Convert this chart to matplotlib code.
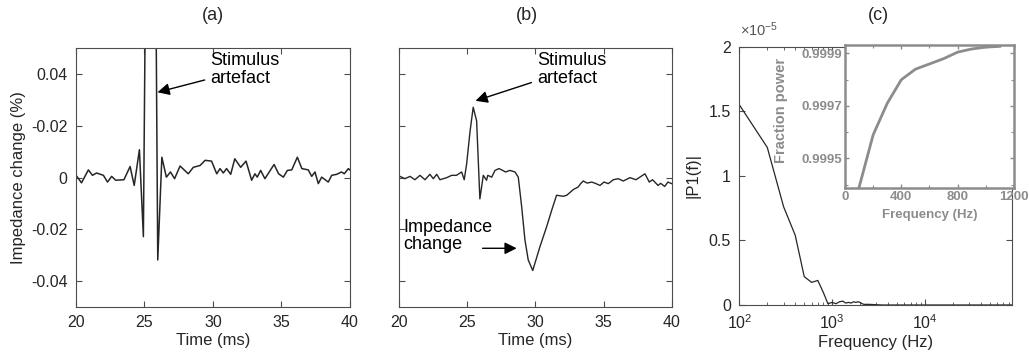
import matplotlib
matplotlib.use('Agg')
import matplotlib.pyplot as plt
from matplotlib.ticker import FixedLocator, NullFormatter, LogLocator

plt.rcParams['font.family'] = ['Liberation Sans', 'DejaVu Sans']
plt.rcParams['mathtext.fontset'] = 'custom'
plt.rcParams['mathtext.rm'] = 'Liberation Sans'
plt.rcParams['mathtext.it'] = 'Liberation Sans:italic'

# (a) raw recording, stimulus artefact dominates
time_a = [20.0, 20.4, 20.9, 21.2, 21.5, 22.0, 22.3, 22.6, 22.9, 23.5, 23.95, 24.25,
          24.63, 24.92, 25.05, 25.45, 25.85, 25.97, 26.27, 26.6, 26.9, 27.2, 27.6,
          28.2, 28.57, 29.06, 29.43, 29.9, 30.28, 30.52, 30.76, 31.0, 31.3, 31.6,
          32.03, 32.42, 32.83, 33.07, 33.24, 33.49, 33.8, 34.47, 34.8, 35.15, 35.44,
          35.76, 36.17, 36.5, 36.97, 37.22, 37.46, 37.7, 37.95, 38.43, 38.68, 39.05,
          39.4, 39.6, 39.9, 40.0]
imp_a = [0.0009, -0.002, 0.003, 0.0009, 0.0018, 0.0009, -0.0017, 0.0005, -0.001,
         -0.0008, 0.0043, -0.003, 0.0108, -0.0228, 0.06, 0.3, 0.06, -0.0318, 0.0079,
         0.0002, 0.0022, -0.0004, 0.0045, 0.0015, 0.004, 0.0047, 0.0067, 0.0064,
         0.0015, 0.0035, 0.0018, 0.0035, 0.0013, 0.0073, 0.004, 0.0064, -0.001,
         0.0015, 0.0002, 0.0028, -0.0004, 0.0051, 0.0015, 0.0002, 0.0028, 0.003,
         0.0079, 0.0035, 0.003, 0.0005, 0.0022, -0.0023, 0.0002, -0.0017, 0.0009,
         0.0013, 0.0022, 0.0015, 0.0035, 0.003]

# (b) after artefact removal, impedance change visible
time_b = [20.05, 20.42, 20.79, 21.15, 21.52, 21.89, 22.25, 22.5, 22.75, 22.99, 23.48,
          23.85, 24.2, 24.58, 24.77, 24.95, 25.2, 25.43, 25.68, 25.92, 26.17, 26.41,
          26.5, 26.79, 27.03, 27.32, 27.6, 27.8, 28.13, 28.5, 28.74, 28.99, 29.23,
          29.47, 29.8, 30.33, 30.82, 31.2, 31.55, 32.04, 32.3, 32.78, 33.14, 33.32,
          33.51, 33.8, 34.13, 34.4, 34.74, 35.03, 35.35, 35.72, 36.08, 36.45, 36.94,
          37.38, 37.67, 38.04, 38.36, 38.6, 39.0, 39.2, 39.49, 39.73, 40.0]
imp_b = [0.0005, -0.0004, 0.0005, -0.0008, 0.0009, -0.0008, 0.0013, -0.0004, 0.0013,
         -0.0008, 0.0, 0.0009, 0.0009, 0.0022, -0.0008, 0.0054, 0.018, 0.0272, 0.022,
         -0.0082, 0.0009, -0.001, 0.0009, 0.0002, 0.0028, 0.0035, 0.0028, 0.0022,
         0.0028, 0.0022, 0.0002, -0.0113, -0.0241, -0.0318, -0.0359, -0.0267,
         -0.019, -0.0125, -0.0068, -0.0072, -0.0068, -0.0046, -0.0036, -0.0023,
         -0.0013, -0.0021, -0.0017, -0.0022, -0.003, -0.0017, -0.0023, -0.0008,
         -0.0004, -0.0013, 0.0, -0.0008, 0.0002, 0.0015, -0.0017, -0.0008, -0.003,
         -0.0022, -0.0034, -0.0017, -0.0023]

# (c) single-sided amplitude spectrum
freq_c = [100, 200, 300, 400, 500, 600, 700, 800, 900, 1000, 1100, 1200, 1300, 1400,
          1500, 1600, 1700, 1800, 1900, 2000, 2100, 2200, 2500, 3000, 3500, 4000,
          4200, 5000, 10000, 20000, 50000, 85900]
p1_c = [1.55e-5, 1.22e-5, 0.76e-5, 0.54e-5, 0.22e-5, 0.175e-5, 0.19e-5, 0.10e-5,
        0.01e-5, 0.02e-5, 0.01e-5, 0.025e-5, 0.03e-5, 0.015e-5, 0.02e-5, 0.015e-5,
        0.025e-5, 0.02e-5, 0.025e-5, 0.02e-5, 0.01e-5, 0.005e-5, 0.005e-5, 0.002e-5,
        0.0, 0.0, 0.0, 0.0, 0.0, 0.0, 0.0, 0.0]

# inset: cumulative fraction of power
freq_in = [100, 200, 300, 400, 500, 600, 700, 800, 900, 1000, 1100]
frac_in = [0.99939, 0.99959, 0.99971, 0.99980, 0.99984, 0.99986, 0.99988,
           0.999905, 0.999917, 0.999924, 0.999927]

axis_col = '#4d4d4d'
text_col = '#262626'
inset_col = '#8c8c8c'

fig = plt.figure(figsize=(10.29, 3.6), dpi=100)


def style_axes(ax):
  for sp in ax.spines.values():
    sp.set_color(axis_col)
    sp.set_linewidth(0.8)
  ax.tick_params(direction='in', top=True, right=True, length=4, width=0.8,
                 colors=axis_col, labelcolor=text_col, labelsize=11.5, pad=6)
  ax.tick_params(which='minor', direction='in', top=True, right=True, length=2,
                 width=0.6, colors=axis_col)


ax_a = fig.add_axes([0.0739, 0.1472, 0.266, 0.7186])
ax_a.plot(time_a, imp_a, color='#262626', lw=1.1)
ax_a.set_xlim(20, 40)
ax_a.set_ylim(-0.05, 0.05)
ax_a.set_xticks([20, 25, 30, 35, 40])
ax_a.set_yticks([-0.04, -0.02, 0, 0.02, 0.04])
ax_a.set_yticklabels(['-0.04', '-0.02', '0', '-0.02', '0.04'])
style_axes(ax_a)
ax_a.set_xlabel('Time (ms)', fontsize=12, color=text_col, labelpad=2)
ax_a.set_ylabel('Impedance change (%)', fontsize=12, color=text_col, labelpad=4)
ax_a.annotate('Stimulus\nartefact', xy=(25.95, 0.033), xytext=(29.8, 0.0418),
              fontsize=13, color='black', va='center', ha='left', linespacing=1.05,
              arrowprops=dict(arrowstyle='-|>', color='black', lw=1,
                              mutation_scale=18, shrinkA=2, shrinkB=0))

ax_b = fig.add_axes([0.388, 0.1472, 0.2647, 0.7186])
ax_b.plot(time_b, imp_b, color='#262626', lw=1.0)
ax_b.set_xlim(20, 40)
ax_b.set_ylim(-0.05, 0.05)
ax_b.set_xticks([20, 25, 30, 35, 40])
ax_b.set_yticks([-0.04, -0.02, 0, 0.02, 0.04])
ax_b.set_yticklabels([])
style_axes(ax_b)
ax_b.set_xlabel('Time (ms)', fontsize=12, color=text_col, labelpad=2)
ax_b.annotate('Stimulus\nartefact', xy=(25.6, 0.0297), xytext=(30.1, 0.0418),
              fontsize=13, color='black', va='center', ha='left', linespacing=1.05,
              arrowprops=dict(arrowstyle='-|>', color='black', lw=1,
                              mutation_scale=18, shrinkA=2, shrinkB=0))
ax_b.text(20.3, -0.0225, 'Impedance\nchange', fontsize=13, color='black',
          va='center', ha='left', linespacing=1.05)
ax_b.annotate('', xy=(28.62, -0.0273), xytext=(26.12, -0.0273),
              arrowprops=dict(arrowstyle='-|>', color='black', lw=1,
                              mutation_scale=18, shrinkA=0, shrinkB=0))

ax_c = fig.add_axes([0.7185, 0.1528, 0.2647, 0.7175])
ax_c.plot(freq_c, [v / 1e-5 for v in p1_c], color='#262626', lw=0.9)
ax_c.set_xscale('log')
ax_c.set_xlim(100, 85900)
ax_c.set_ylim(0, 2)
ax_c.set_yticks([0, 0.5, 1, 1.5, 2])
ax_c.set_yticklabels(['0', '0.5', '1', '1.5', '2'])
ax_c.xaxis.set_major_locator(FixedLocator([1e2, 1e3, 1e4]))
ax_c.xaxis.set_minor_locator(LogLocator(base=10, subs=range(2, 10)))
ax_c.xaxis.set_minor_formatter(NullFormatter())
style_axes(ax_c)
ax_c.set_xlabel('Frequency (Hz)', fontsize=12, color=text_col, labelpad=2)
ax_c.set_ylabel('|P1(f)|', fontsize=12, color=text_col, labelpad=6)
fig.text(0.719, 0.892, r'$\times$10$^{-5}$', fontsize=10.5, color='#555555',
         ha='left', va='bottom')

ax_in = fig.add_axes([0.8212, 0.4769, 0.1642, 0.398])
ax_in.plot(freq_in, frac_in, color=inset_col, lw=2)
ax_in.set_xlim(0, 1200)
ax_in.set_ylim(0.999386, 0.999932)
ax_in.set_xticks([0, 400, 800, 1200])
ax_in.set_xticks([200, 600, 1000], minor=True)
ax_in.set_yticks([0.9995, 0.9997, 0.9999])
ax_in.set_yticklabels(['0.9995', '0.9997', '0.9999'])
ax_in.set_yticks([0.9994, 0.9996, 0.9998], minor=True)
for sp in ax_in.spines.values():
  sp.set_color(inset_col)
  sp.set_linewidth(1.8)
ax_in.tick_params(direction='in', top=True, right=True, length=3, width=1,
                  colors=inset_col, labelsize=9.5, pad=2)
ax_in.tick_params(which='minor', direction='in', top=True, right=True, length=2,
                  width=0.8, colors=inset_col)
for lab in ax_in.get_xticklabels() + ax_in.get_yticklabels():
  lab.set_fontweight('bold')
ax_in.set_xlabel('Frequency (Hz)', fontsize=9.5, color=inset_col, fontweight='bold',
                 labelpad=4)
ax_in.set_ylabel('Fraction power', fontsize=10.5, color=inset_col, fontweight='bold')
ax_in.yaxis.set_label_coords(-0.335, 0.546)

fig.text(0.2069, 0.958, '(a)', fontsize=13, color=text_col, ha='center', va='center')
fig.text(0.5119, 0.958, '(b)', fontsize=13, color=text_col, ha='center', va='center')
fig.text(0.8535, 0.958, '(c)', fontsize=13, color=text_col, ha='center', va='center')

fig.savefig('out.png', dpi=100)
